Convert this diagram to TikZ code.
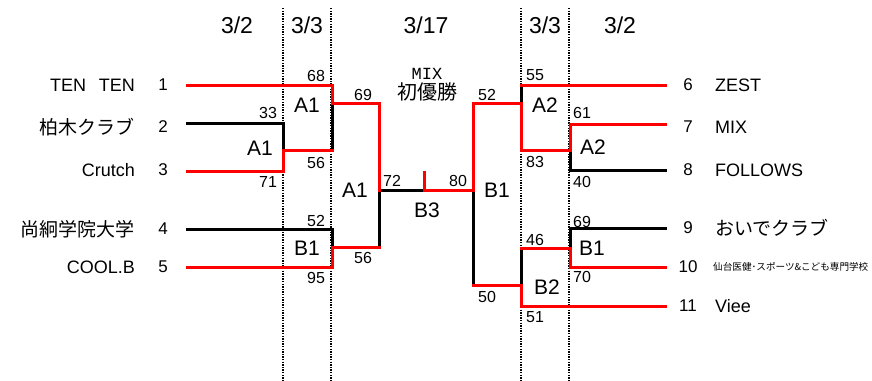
\documentclass[tikz,border=0pt]{standalone}
\usepackage{fontspec}
\setmainfont{Liberation Sans}
\setmonofont{Liberation Mono}
\newfontfamily\jpfont{Noto Sans CJK JP}
\usepackage{tikz}
\usetikzlibrary{positioning}
\RequirePackage{xcolor}
\definecolor{BracketRed}{HTML}{FF0000}
\definecolor{BracketBlack}{HTML}{000000}

\tikzset{
  win/.style={draw=BracketRed, line width=3pt, line cap=rect, line join=miter},
  lose/.style={draw=BracketBlack, line width=3pt, line cap=rect, line join=miter},
  dayline/.style={draw=BracketBlack, line width=1.3pt, dash pattern=on 1.3pt off 1.3pt},
  team/.style={font=\fontsize{18}{20}\selectfont, inner sep=0pt},
  jpteam/.style={font=\jpfont\fontsize{19}{21}\selectfont, inner sep=0pt},
  seed/.style={font=\fontsize{17}{20}\selectfont, inner sep=0pt},
  score/.style={font=\fontsize{16}{18}\selectfont, inner sep=0pt},
  match/.style={font=\fontsize{21}{24}\selectfont, inner sep=0pt},
  day/.style={font=\fontsize{23}{25}\selectfont, inner sep=0pt},
}

\begin{document}
\begin{tikzpicture}[x=1pt, y=-1pt]
\useasboundingbox (0,0) rectangle (872,380);

% Days
\draw[dayline] (283,8) -- (283,380);
\draw[dayline] (331,8) -- (331,380);
\draw[dayline] (521,8) -- (521,380);
\draw[dayline] (569,8) -- (569,380);

\node[day] (dayL1) at (237,25) {3/2};
\node[day] (dayL2) at (307,25) {3/3};
\node[day] (dayF) at (426,25) {3/17};
\node[day] (dayR2) at (545,25) {3/3};
\node[day] (dayR1) at (620,25) {3/2};

% Teams (left)
\node[seed] (s1) at (163,85) {1};
\node[seed] (s2) at (163,127) {2};
\node[seed] (s3) at (163,170) {3};
\node[seed] (s4) at (163,229) {4};
\node[seed] (s5) at (163,267) {5};
\node[team, anchor=east] (t1) at (135,85) {TEN\hspace{0.7em}TEN};
\node[jpteam, anchor=east] (t2) at (135,127) {柏木クラブ};
\node[team, anchor=east] (t3) at (135,170) {Crutch};
\node[jpteam, anchor=east] (t4) at (135,229) {尚絅学院大学};
\node[team, anchor=east] (t5) at (135,267) {COOL.B};

% Teams (right)
\node[seed] (s6) at (688,85) {6};
\node[seed] (s7) at (688,127) {7};
\node[seed] (s8) at (688,170) {8};
\node[seed] (s9) at (688,228) {9};
\node[seed] (s10) at (688,267) {10};
\node[seed] (s11) at (688,306) {11};
\node[team, anchor=west] (t6) at (715,85) {ZEST};
\node[team, anchor=west] (t7) at (715,127) {MIX};
\node[team, anchor=west] (t8) at (715,170) {FOLLOWS};
\node[jpteam, anchor=west] (t9) at (715,228) {おいでクラブ};
\node[anchor=west, inner sep=0pt, font=\jpfont\fontsize{9.6}{12}\selectfont] (t10) at (713,267) {仙台医健･スポーツ\&こども専門学校};
\node[team, anchor=west] (t11) at (715,306) {Viee};

% Line ends
\coordinate (p1) at (187,85);
\coordinate (p2) at (187,123);
\coordinate (p3) at (187,171);
\coordinate (p4) at (187,229);
\coordinate (p5) at (187,267);
\coordinate (p6) at (665,85);
\coordinate (p7) at (665,124);
\coordinate (p8) at (665,170);
\coordinate (p9) at (665,228);
\coordinate (p10) at (665,267);
\coordinate (p11) at (665,306);
\coordinate (top) at (424,172);

% Losing lines
\draw[lose] (p2) -| (283,150);
\draw[lose] (332,103) -- (332,150);
\draw[lose] (p4) -| (332,247);
\draw[lose] (379,190) -- (379,247);
\draw[lose] (379,190) -- (424,190);
\draw[lose] (521,85) -- (521,103);
\draw[lose] (p8) -| (570,150);
\draw[lose] (473,190) -- (473,285);
\draw[lose] (p9) -| (570,248);
\draw[lose] (521,248) -- (521,285);

% Winning lines
\draw[win] (p1) -| (332,103) -| (379,190);
\draw[win] (p3) -| (283,150) -- (332,150);
\draw[win] (p5) -| (332,247) -- (379,247);
\draw[win] (p7) -| (570,150) -| (521,103) -| (473,190) -| (top);
\draw[win] (p6) -- (521,85);
\draw[win] (p11) -| (521,285) -- (473,285);
\draw[win] (p10) -| (570,248) -- (521,248);

% Scores
\node[score] (c1) at (316,76) {68};
\node[score] (c2) at (268,113) {33};
\node[score] (c3) at (268,182) {71};
\node[score] (c4) at (316,163) {56};
\node[score] (c5) at (316,221) {52};
\node[score] (c6) at (316,278) {95};
\node[score] (c7) at (363,95) {69};
\node[score] (c8) at (363,258) {56};
\node[score] (c9) at (392,181) {72};
\node[score] (c10) at (458,181) {80};
\node[score] (c11) at (487,95) {52};
\node[score] (c12) at (487,297) {50};
\node[score] (c13) at (535,75) {55};
\node[score] (c14) at (535,162) {83};
\node[score] (c15) at (582,113) {61};
\node[score] (c16) at (582,182) {40};
\node[score] (c17) at (582,222) {69};
\node[score] (c18) at (535,240) {46};
\node[score] (c19) at (582,277) {70};
\node[score] (c20) at (535,317) {51};

% Courts
\node[match] (m1) at (260,148) {A1};
\node[match] (m2) at (307,105) {A1};
\node[match] (m3) at (307,248) {B1};
\node[match] (m4) at (355,190) {A1};
\node[match] (m5) at (427,210) {B3};
\node[match] (m6) at (497,190) {B1};
\node[match] (m7) at (545,105) {A2};
\node[match] (m8) at (593,147) {A2};
\node[match] (m9) at (592,248) {B1};
\node[match] (m10) at (547,287) {B2};

% Champion
\node[inner sep=0pt, font=\ttfamily\fontsize{17}{19}\selectfont] (mix) at (427,74) {MIX};
\node[inner sep=0pt, font=\jpfont\fontsize{20}{22}\selectfont, below=3pt of mix] (first) {初優勝};

\end{tikzpicture}
\end{document}
